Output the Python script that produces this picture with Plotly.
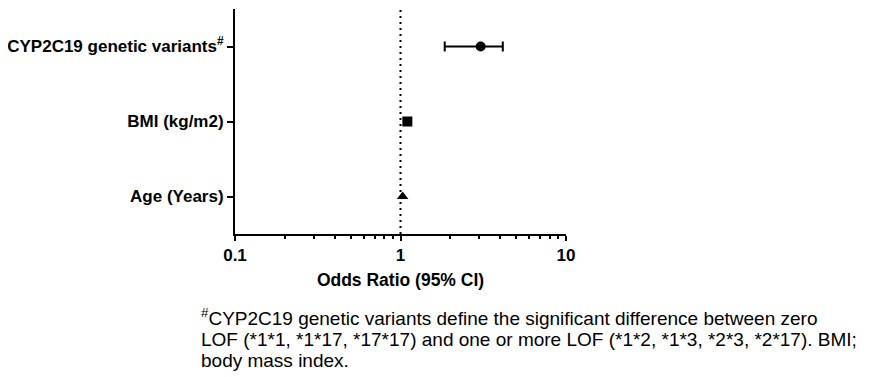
import plotly.graph_objects as go

categories = ["Age (Years)", "BMI (kg/m2)", "CYP2C19 genetic variants<sup>#</sup>"]
odds_ratio = [1.03, 1.10, 3.05]
ci_low = [1.01, 1.07, 1.85]
ci_high = [1.05, 1.13, 4.15]
symbols = ["triangle-up", "square", "circle"]
x_ticks = [0.1, 1, 10]
x_tick_labels = ["<b>0.1</b>", "<b>1</b>", "<b>10</b>"]
x_minor = [0.2, 0.3, 0.4, 0.5, 0.6, 0.7, 0.8, 0.9, 2, 3, 4, 5, 6, 7, 8, 9]
footnote_lines = [
    "<sup>#</sup>CYP2C19 genetic variants define the significant difference between zero",
    "LOF (*1*1, *1*17, *17*17) and one or more LOF (*1*2, *1*3, *2*3, *2*17). BMI;",
    "body mass index.",
]

FONT = "Liberation Sans, Arial"
ypos = list(range(len(categories)))
fig = go.Figure()
for i in ypos:
    fig.add_trace(go.Scatter(
        x=[odds_ratio[i]], y=[i], mode="markers",
        marker=dict(symbol=symbols[i], size=10, color="black"),
        error_x=dict(type="data", symmetric=False,
                     array=[ci_high[i] - odds_ratio[i]],
                     arrayminus=[odds_ratio[i] - ci_low[i]],
                     color="black", thickness=2, width=5 if i == 2 else 0),
        showlegend=False))

fig.add_shape(type="line", xref="x", yref="paper", x0=1, x1=1, y0=0, y1=1,
              line=dict(color="black", width=2, dash="2px,4px"))

# page has an 8px body margin; figure is sized to fit the 880x377 window
W, H = 872, 369
fig.update_layout(
    width=W, height=H,
    margin=dict(l=227, r=314, t=1, b=143),
    paper_bgcolor="white", plot_bgcolor="white",
    font=dict(family=FONT, color="black"),
    xaxis=dict(type="log", range=[-1, 1], tickvals=x_ticks, ticktext=x_tick_labels,
               showline=True, linecolor="black", linewidth=2, ticks="outside",
               ticklen=5, tickwidth=2, tickcolor="black", showgrid=False, zeroline=False,
               minor=dict(tickvals=x_minor, ticks="outside", ticklen=3, tickwidth=1.5,
                          tickcolor="black", showgrid=False),
               tickfont=dict(size=17, family=FONT),
               automargin=False,
               title=dict(text="<b>Odds Ratio (95% CI)</b>", font=dict(size=17.5), standoff=9)),
    yaxis=dict(range=[-0.5, 2.5], tickvals=ypos,
               ticktext=["<b>" + c + "</b>" for c in categories],
               showline=True, linecolor="black", linewidth=2, ticks="outside",
               ticklen=6, tickwidth=2, tickcolor="black", showgrid=False, zeroline=False,
               automargin=False,
               tickfont=dict(size=17)),
)

line_y = [-0.369, -0.467, -0.564]
for txt, yy in zip(footnote_lines, line_y):
    fig.add_annotation(xref="paper", yref="paper", x=-0.109, y=yy,
                       xanchor="left", yanchor="middle", align="left", showarrow=False,
                       font=dict(size=19, family=FONT), text=txt)

fig.write_html("out.html")
